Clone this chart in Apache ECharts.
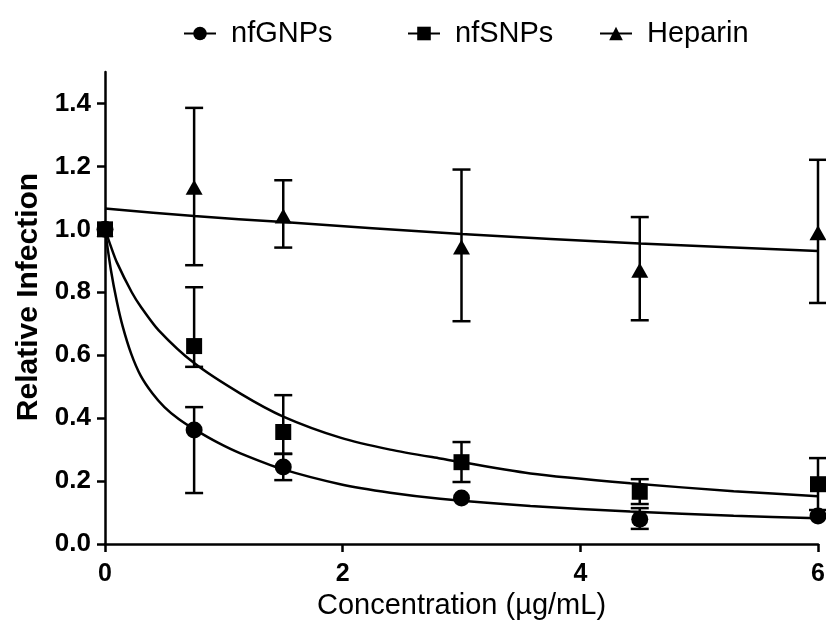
<!DOCTYPE html>
<html>
<head>
<meta charset="utf-8">
<script src="https://cdn.jsdelivr.net/npm/echarts@6/dist/echarts.min.js"></script>
<style>html,body{margin:0;padding:0;background:#fff}#c{width:826px;height:625px}</style>
</head>
<body>
<div id="c"></div>
<script>
// ---- data ----
const concentrations = [0, 0.75, 1.5, 3, 4.5, 6];
const gnpValues = [1.0, 0.362, 0.245, 0.146, 0.079, 0.089];
const snpValues = [1.0, 0.629, 0.356, 0.260, 0.166, 0.190];
const heparinValues = [1.0, 1.134, 1.042, 0.944, 0.870, 0.989];

// error bars: [x, low, high]
const gnpErrors = [[0.75, 0.162, 0.435], [1.5, 0.203, 0.287], [4.5, 0.048, 0.114]];
const snpErrors = [[0.75, 0.563, 0.816], [1.5, 0.286, 0.473], [3, 0.197, 0.324], [4.5, 0.127, 0.206], [6, 0.108, 0.273]];
const heparinErrors = [[0.75, 0.886, 1.386], [1.5, 0.942, 1.156], [3, 0.708, 1.190], [4.5, 0.711, 1.039], [6, 0.766, 1.221]];

// fitted curves
const gnpFitX = [0, 0.05, 0.1, 0.15, 0.22, 0.3, 0.4, 0.5, 0.62, 0.75, 0.95, 1.14, 1.5, 1.98, 2.4, 2.82, 3.58, 4.42, 5.29, 6];
const gnpFitY = [1.0, 0.87, 0.77, 0.69, 0.605, 0.535, 0.478, 0.435, 0.397, 0.365, 0.322, 0.288, 0.237, 0.190, 0.163, 0.144, 0.121, 0.103, 0.090, 0.082];
const snpFitX = [0, 0.05, 0.1, 0.225, 0.3, 0.45, 0.75, 1.14, 1.5, 1.98, 2.4, 2.82, 3.58, 4.42, 5.29, 6];
const snpFitY = [1.0, 0.945, 0.895, 0.80, 0.755, 0.68, 0.575, 0.478, 0.405, 0.338, 0.300, 0.272, 0.224, 0.193, 0.168, 0.152];
const heparinFitX = [0, 0.75, 1.5, 3, 4.5, 6];
const heparinFitY = [1.066, 1.042, 1.023, 0.985, 0.955, 0.931];

const xTicks = [0, 2, 4, 6];
const yTicks = [0, 0.2, 0.4, 0.6, 0.8, 1.0, 1.2, 1.4];
const seriesNames = ['nfGNPs', 'nfSNPs', 'Heparin'];

// ---- build ----
const FONT = "'Liberation Sans', Arial, Helvetica, sans-serif";
const zip = (xs, ys) => xs.map((x, i) => [x, ys[i]]);

function errorSeries(data) {
  return {
    type: 'custom',
    data: data,
    clip: false,
    z: 3,
    silent: true,
    encode: { x: 0, y: [1, 2] },
    renderItem: function (params, api) {
      const x = api.value(0);
      const lo = api.coord([x, api.value(1)]);
      const hi = api.coord([x, api.value(2)]);
      const hw = 9;
      const style = { stroke: '#000', lineWidth: 2.5, fill: null };
      return {
        type: 'group',
        children: [
          { type: 'line', shape: { x1: lo[0], y1: lo[1], x2: hi[0], y2: hi[1] }, style: style },
          { type: 'line', shape: { x1: lo[0] - hw, y1: lo[1], x2: lo[0] + hw, y2: lo[1] }, style: style },
          { type: 'line', shape: { x1: hi[0] - hw, y1: hi[1], x2: hi[0] + hw, y2: hi[1] }, style: style }
        ]
      };
    }
  };
}

function fitSeries(name, xs, ys, symbol) {
  return {
    name: name,
    type: 'line',
    data: zip(xs, ys),
    smooth: 0.25,
    showSymbol: false,
    symbol: symbol,
    clip: false,
    z: 2,
    silent: true,
    itemStyle: { color: '#000' },
    lineStyle: { color: '#000', width: 2.5 }
  };
}

function pointSeries(name, values, symbol, size) {
  return {
    name: name + ' points',
    type: 'scatter',
    data: zip(concentrations, values),
    symbol: symbol,
    symbolSize: size,
    clip: false,
    z: 5,
    silent: true,
    itemStyle: { color: '#000', opacity: 1 }
  };
}

const legendCommon = {
  itemWidth: 32,
  itemHeight: 17,
  top: 14,
  textStyle: { fontFamily: FONT, fontSize: 29, color: '#000', padding: [0, 0, 0, 10] },
  selectedMode: false
};

const option = {
  animation: false,
  backgroundColor: '#fff',
  legend: [
    Object.assign({ left: 178, data: [seriesNames[0]] }, legendCommon),
    Object.assign({ left: 402, data: [seriesNames[1]] }, legendCommon),
    Object.assign({ left: 594, data: [seriesNames[2]] }, legendCommon)
  ],
  grid: { left: 105, right: 8, top: 72, bottom: 81, containLabel: false, outerBoundsMode: 'none' },
  xAxis: {
    type: 'value',
    min: 0, max: 6, interval: 2,
    name: 'Concentration (µg/mL)',
    nameLocation: 'middle',
    nameGap: 45,
    nameTextStyle: { fontFamily: FONT, fontSize: 29, color: '#000' },
    axisLine: { lineStyle: { color: '#000', width: 2.5 } },
    axisTick: { show: true, length: 8, lineStyle: { color: '#000', width: 2.5 }, customValues: xTicks },
    axisLabel: { fontFamily: FONT, fontSize: 25, fontWeight: 'bold', color: '#000', margin: 18,
      customValues: xTicks },
    splitLine: { show: false }
  },
  yAxis: {
    type: 'value',
    min: 0, max: 1.5,
    name: 'Relative Infection',
    nameLocation: 'middle',
    nameGap: 52,
    nameTextStyle: { fontFamily: FONT, fontSize: 30, fontWeight: 'bold', color: '#000', padding: [0, 0, 0, 22] },
    axisLine: { show: true, lineStyle: { color: '#000', width: 2.5 } },
    axisTick: { show: true, length: 8, lineStyle: { color: '#000', width: 2.5 }, customValues: yTicks },
    axisLabel: { fontFamily: FONT, fontSize: 26, fontWeight: 'bold', color: '#000', margin: 14,
      customValues: yTicks, formatter: v => v.toFixed(1) },
    splitLine: { show: false }
  },
  series: [
    fitSeries(seriesNames[0], gnpFitX, gnpFitY, 'circle'),
    fitSeries(seriesNames[1], snpFitX, snpFitY, 'rect'),
    fitSeries(seriesNames[2], heparinFitX, heparinFitY, 'triangle'),
    errorSeries(gnpErrors),
    errorSeries(snpErrors),
    errorSeries(heparinErrors),
    pointSeries(seriesNames[2], heparinValues, 'triangle', [17, 15]),
    pointSeries(seriesNames[0], gnpValues, 'circle', 17),
    pointSeries(seriesNames[1], snpValues, 'rect', 16)
  ]
};

const chart = echarts.init(document.getElementById('c'), null, { renderer: 'canvas' });
chart.setOption(option);
</script>
</body>
</html>
